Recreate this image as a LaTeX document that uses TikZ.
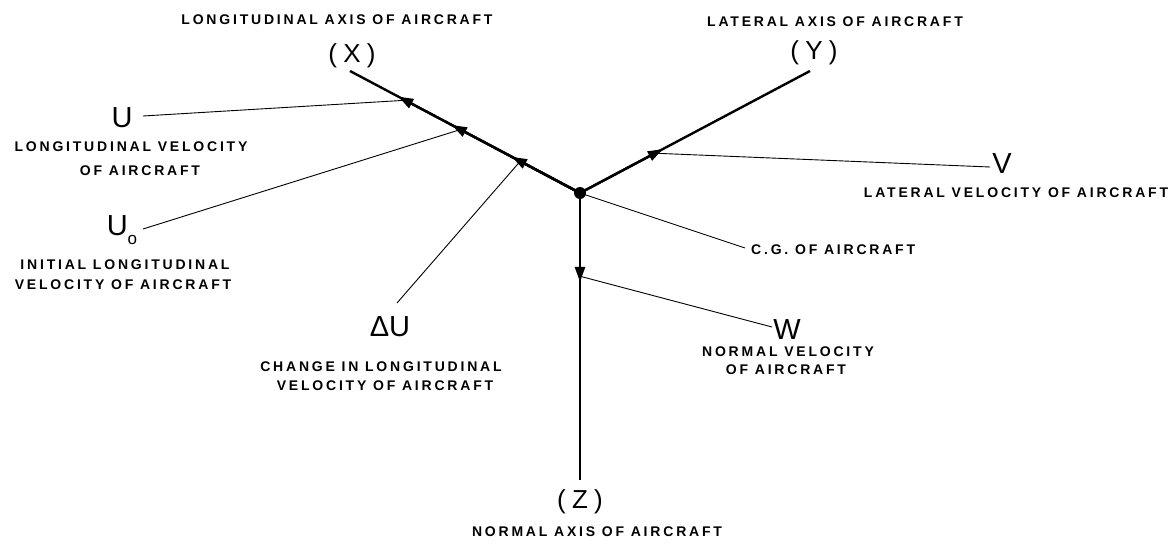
\documentclass[tikz,border=0pt]{standalone}
\usepackage{fontspec}
\setmainfont{Liberation Sans}
\newfontfamily\labfont{Liberation Sans}[LetterSpace=20]
\newfontfamily\axfont{Liberation Sans}[LetterSpace=24]
\newfontfamily\bigf{Liberation Sans}
\usetikzlibrary{arrows.meta,calc}
\tikzset{
  axisline/.style={line width=2.4pt},
  leader/.style={line width=0.9pt},
  smalllab/.style={font=\labfont\bfseries\fontsize{14}{16}\selectfont, inner sep=0pt},
  biglab/.style={font=\bigf\fontsize{29}{32}\selectfont, inner sep=0pt},
  axislab/.style={font=\axfont\fontsize{26}{28}\selectfont, inner sep=0pt},
  cgdot/.style={circle, fill, minimum size=12pt, inner sep=0pt},
  tiparrow/.style={-{Triangle[length=15pt,width=10pt]}},
}
\begin{document}
\begin{tikzpicture}[x=1pt,y=-1pt]
\useasboundingbox (0,0) rectangle (1173,546);
% origin and axes
\node[cgdot] (cg) at (580,193) {};
\coordinate (xe) at (350,71);
\coordinate (ye) at (810,71);
\coordinate (ze) at (580,480);
\draw[axisline] (cg.center) -- (xe);
\draw[axisline] (cg.center) -- (ye);
\draw[axisline] (cg.center) -- (ze);
% arrow tips on axes
\coordinate (tx1) at ($(cg.center)!0.79!(xe)$);
\coordinate (tx2) at ($(cg.center)!0.557!(xe)$);
\coordinate (tx3) at ($(cg.center)!0.296!(xe)$);
\coordinate (ty1) at ($(cg.center)!0.36!(ye)$);
\coordinate (tz1) at ($(cg.center)!0.31!(ze)$);
\draw[axisline,tiparrow] (cg.center) -- (tx1);
\draw[axisline,tiparrow] (cg.center) -- (tx2);
\draw[axisline,tiparrow] (cg.center) -- (tx3);
\draw[axisline,tiparrow] (cg.center) -- (ty1);
\draw[axisline,tiparrow] (cg.center) -- (tz1);
% leader ends on axes
\coordinate (kx1) at ($(cg.center)!0.76!(xe)$);
\coordinate (kx2) at ($(cg.center)!0.52!(xe)$);
\coordinate (kx3) at ($(cg.center)!0.26!(xe)$);
\coordinate (ky1) at ($(cg.center)!0.326!(ye)$);
\coordinate (kz1) at ($(cg.center)!0.29!(ze)$);
% axis labels
\node[smalllab] (xl) at (337,20) {LONGITUDINAL AXIS OF AIRCRAFT};
\node[axislab] (xn) at (352,56) {(X)};
\node[smalllab] (yl) at (835,22) {LATERAL AXIS OF AIRCRAFT};
\node[axislab] (yn) at (814,53) {(Y)};
\node[axislab] (zn) at (580,502) {(Z)};
\node[smalllab] (zl) at (597,532) {NORMAL AXIS OF AIRCRAFT};
% U
\node[biglab] (u) at (122,118) {U};
\node[smalllab] (ul1) at (131,147) {LONGITUDINAL VELOCITY};
\node[smalllab] (ul2) at (140,171) {OF AIRCRAFT};
\coordinate (us) at (143,116);
\draw[leader] (us) -- (kx1);
% U0
\node[biglab] (u0) at (122,230) {U\raisebox{-9pt}{\fontsize{17}{17}\selectfont o}};
\node[smalllab] (u0l1) at (125,265) {INITIAL LONGITUDINAL};
\node[smalllab] (u0l2) at (123,285) {VELOCITY OF AIRCRAFT};
\coordinate (u0s) at (143,229);
\draw[leader] (u0s) -- (kx2);
% Delta U
\node[biglab] (du) at (390,327) {ΔU};
\node[smalllab] (dul1) at (381,367) {CHANGE IN LONGITUDINAL};
\node[smalllab] (dul2) at (385,386) {VELOCITY OF AIRCRAFT};
\coordinate (dus) at (397,303);
\draw[leader] (dus) -- (kx3);
% V
\node[biglab] (v) at (1002,164) {V};
\node[smalllab] (vl) at (1016,193) {LATERAL VELOCITY OF AIRCRAFT};
\coordinate (vs) at (990,167);
\draw[leader] (vs) -- (ky1);
% C.G.
\node[smalllab, anchor=west] (cgl) at (751,250) {C.G. OF AIRCRAFT};
\coordinate (cgs) at (745,248);
\draw[leader] (cg.center) -- (cgs);
% W
\node[biglab] (w) at (787,330) {W};
\node[smalllab] (wl1) at (788,352) {NORMAL VELOCITY};
\node[smalllab] (wl2) at (786,370) {OF AIRCRAFT};
\coordinate (ws) at (772,327);
\draw[leader] (ws) -- (kz1);
\end{tikzpicture}
\end{document}
